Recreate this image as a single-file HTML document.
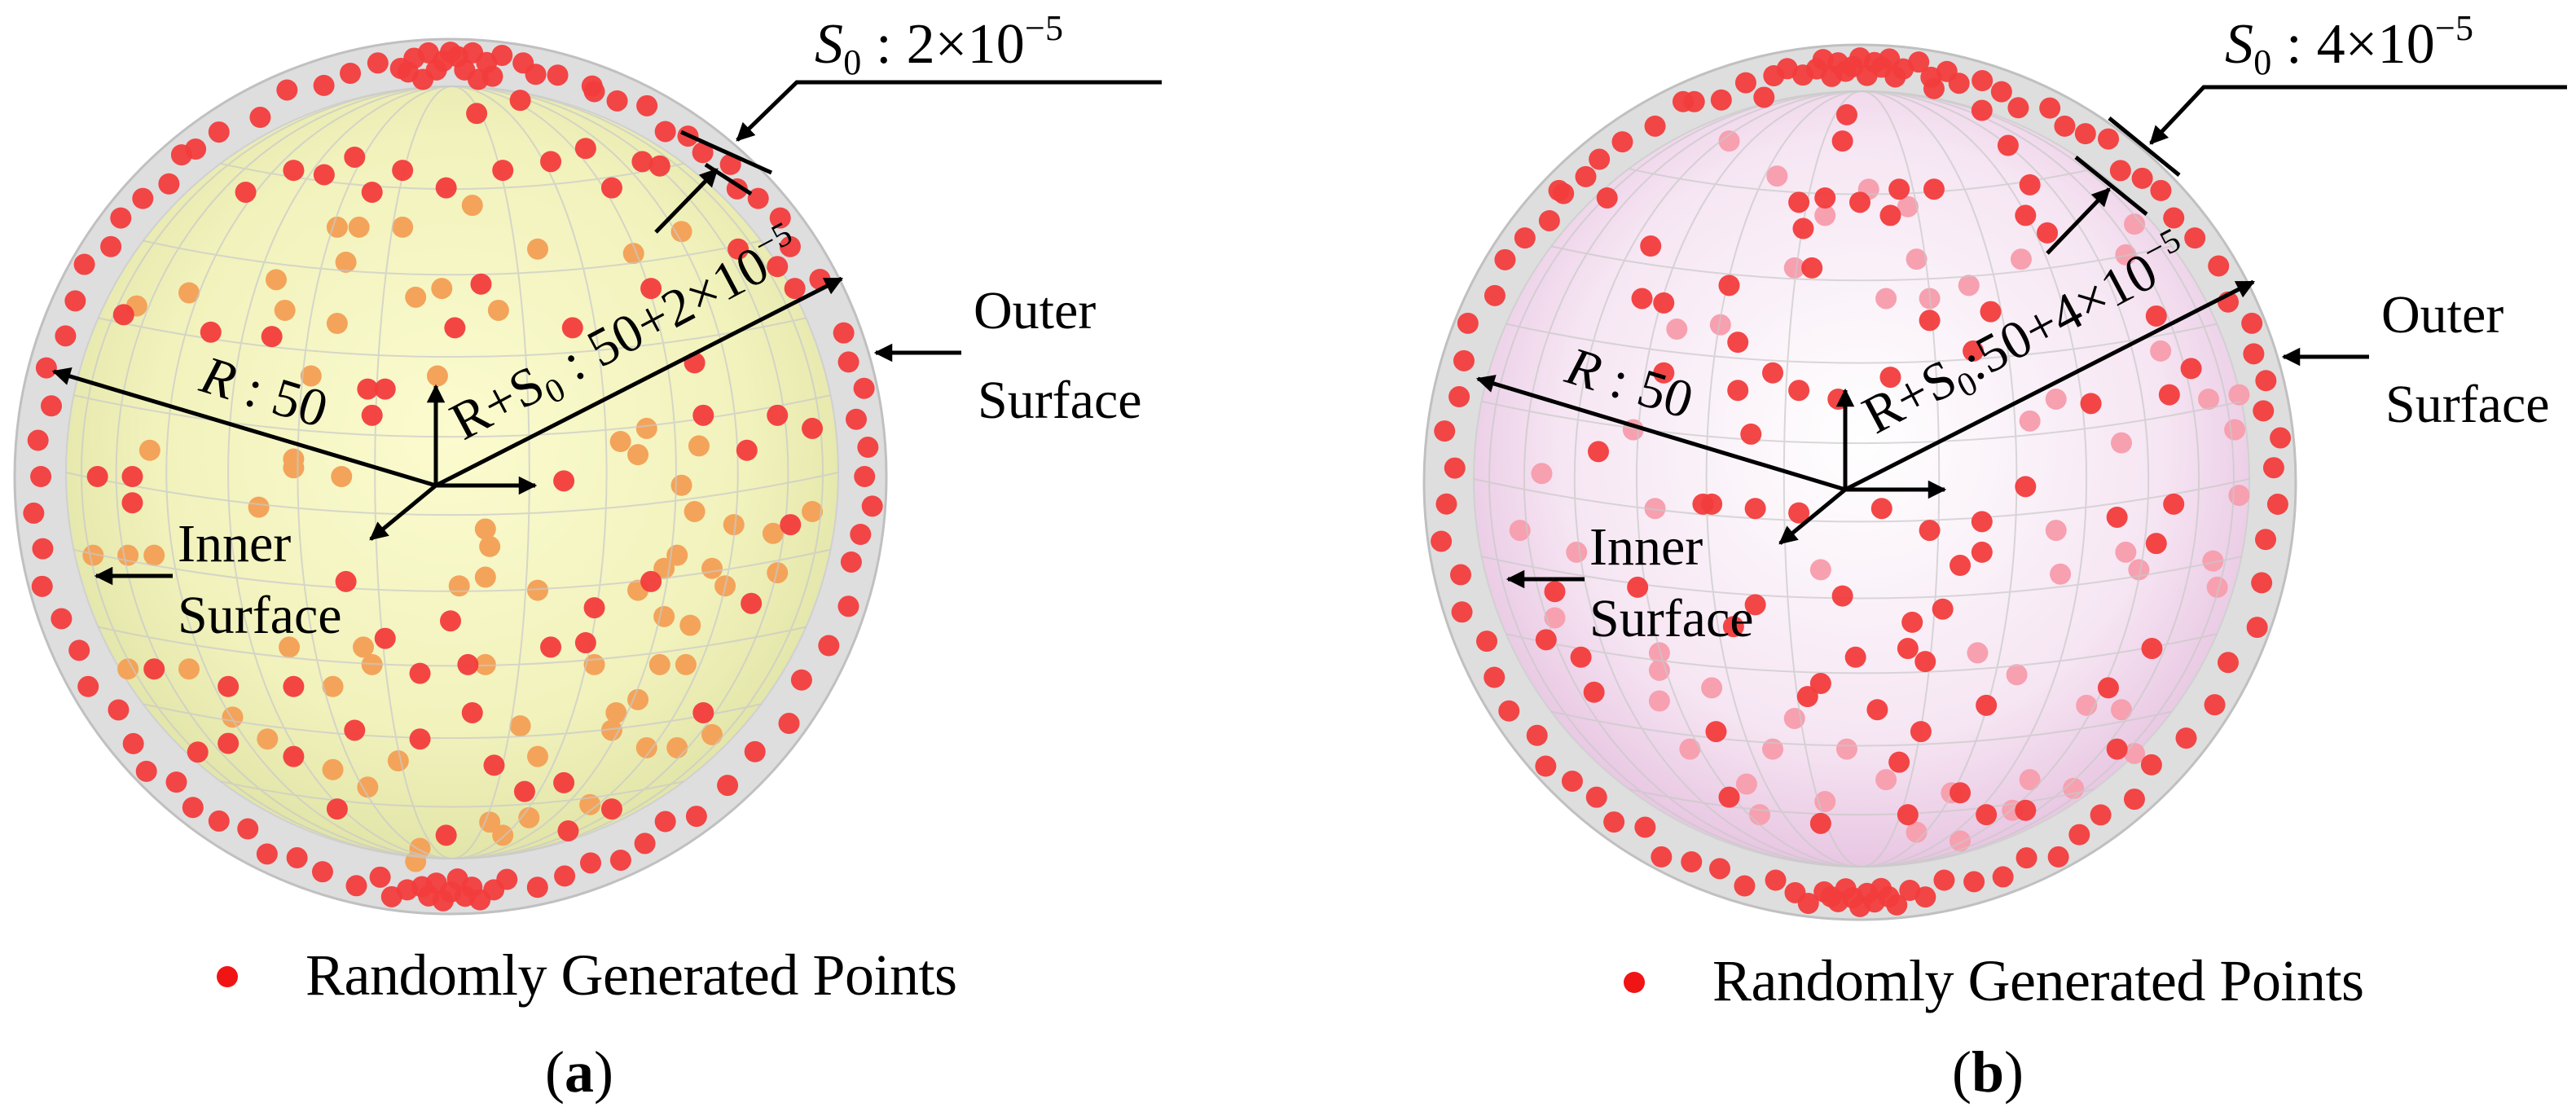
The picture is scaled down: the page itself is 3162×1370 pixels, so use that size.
<!DOCTYPE html>
<html><head><meta charset="utf-8"><style>
html,body{margin:0;padding:0;background:#fff}
svg{display:block;font-family:"Liberation Serif","Times New Roman",serif}
text{font-family:"Liberation Serif","Times New Roman",serif;fill:#000}
</style></head><body>
<svg id="fig" width="3162" height="1370" viewBox="0 0 3162 1370" xmlns="http://www.w3.org/2000/svg" font-family="Liberation Serif, serif">
<defs>
<radialGradient id="gy" cx="0.5" cy="0.45" r="0.55">
<stop offset="0" stop-color="#fbfbcf"/><stop offset="0.7" stop-color="#f1f2bc"/><stop offset="1" stop-color="#e2e5a8"/></radialGradient>
<radialGradient id="gp" cx="0.5" cy="0.45" r="0.55">
<stop offset="0" stop-color="#ffffff"/><stop offset="0.7" stop-color="#f6e6f3"/><stop offset="1" stop-color="#e8c6e2"/></radialGradient>
<marker id="ah" viewBox="0 0 10 10" refX="9" refY="5" markerWidth="6" markerHeight="4.5" orient="auto" markerUnits="strokeWidth"><path d="M0,0 L10,5 L0,10 z" fill="#000"/></marker>
</defs>
<g id="panelA"></g>
<g id="panelB"></g>
</svg>
<script>
// ---- data: panel (a) ----
const ringAngA=[80,83,85,87,88,89,90,91,92,93,95,97,100,78,75,84,96,86,94,104,108,113,118,124,70,66,62,58,55,52,48,45,42,38,34,28,20,16,12,8,4,0,-4,-8,-12,-18,-24,-30,-36,-42,-48,-54,-58,-62,-66,-70,-74,-78,-82,-84,-86,-87,-88,-89,-90,-91,-92,-93,-94,-96,-98,-100,-103,-108,-112,-116,-120,-124,-128,-132,-136,-140,-145,-150,-155,-160,-165,-170,-175,180,175,170,165,160,155,150,146,142,138,134,130,128];
const ringRA=[0.96,0.97,0.95,0.97,0.93,0.96,0.97,0.95,0.93,0.97,0.96,0.94,0.96,0.94,0.95,0.92,0.93,0.91,0.91,0.95,0.94,0.96,0.93,0.95,0.95,0.94,0.96,0.93,0.95,0.94,0.96,0.93,0.95,0.96,0.94,0.96,0.96,0.95,0.97,0.94,0.96,0.95,0.97,0.95,0.94,0.96,0.95,0.93,0.96,0.94,0.95,0.96,0.93,0.95,0.96,0.94,0.95,0.96,0.93,0.95,0.97,0.94,0.96,0.92,0.95,0.97,0.93,0.96,0.94,0.95,0.97,0.93,0.96,0.95,0.94,0.96,0.93,0.95,0.96,0.94,0.97,0.95,0.93,0.96,0.94,0.95,0.97,0.95,0.96,0.94,0.95,0.93,0.96,0.94,0.95,0.97,0.94,0.96,0.95,0.93,0.96];
const frontXA=[0.07,0.01,0.28,0.46,-0.55,-0.41,-0.19,-0.15,-0.18,-0.81,-0.73,-0.73,0.26,0.58,0.68,0.75,0.83,0.78,-0.24,0.33,0.46,0.69,-0.15,-0.07,0.04,0.23,0.31,-0.36,-0.51,-0.68,-0.22,-0.07,0.05,0.58,0.1,0.26,0.17,0.37,-0.26,-0.01,0.27,-0.51,-0.58,-0.36,-0.47,-0.29,-0.18,-0.11,-0.01,0.12,0.23,0.37,0.31,0.06,0.16,0.33,-0.22,-0.36,0.44,0.48,0.66,0.75,0.79,0.56,-0.75,0];
const frontYA=[-0.44,-0.34,-0.34,-0.43,-0.33,-0.32,-0.2,-0.2,-0.14,0,0,0.06,0.01,-0.14,-0.06,-0.14,-0.11,0.11,0.24,0.3,0.24,0.29,0.37,0.45,0.43,0.39,0.38,0.48,0.48,0.44,0.58,0.6,0.54,0.54,0.66,0.7,0.72,0.76,0.76,0.82,0.81,0.61,0.63,0.64,-0.65,-0.69,-0.65,-0.7,-0.66,-0.7,-0.72,-0.66,-0.75,-0.83,-0.86,-0.88,-0.73,-0.7,-0.72,-0.71,-0.52,-0.48,-0.43,-0.26,-0.37,0.33];
const backXA=[-0.26,-0.21,-0.11,0.05,0.2,0.42,0.53,-0.4,-0.24,-0.08,-0.02,0.11,-0.26,-0.6,-0.72,-0.38,-0.32,-0.03,-0.69,-0.36,-0.25,-0.36,0.39,0.43,0.45,0.57,0.53,0.56,0.65,0.74,0.83,0.08,0.09,-0.44,-0.68,-0.74,-0.82,0.08,0.02,0.2,0.43,0.49,0.52,0.6,0.63,0.75,0.49,0.55,-0.37,-0.2,-0.18,0.08,0.33,0.48,0.54,-0.27,-0.74,-0.6,-0.5,-0.42,-0.27,-0.12,0.16,0.38,0.37,0.43,0.45,0.52,-0.19,0.09,0.18,0.32,0.12,-0.07,-0.08,0.6,0.2];
const backYA=[-0.57,-0.57,-0.57,-0.62,-0.52,-0.51,-0.56,-0.45,-0.49,-0.41,-0.43,-0.38,-0.35,-0.42,-0.39,-0.38,-0.23,-0.23,-0.06,-0.04,0,-0.02,-0.08,-0.05,-0.11,-0.07,0.02,0.08,0.11,0.13,0.08,0.12,0.16,0.07,0.18,0.18,0.18,0.23,0.25,0.26,0.26,0.21,0.18,0.21,0.25,0.22,0.32,0.34,0.39,0.39,0.43,0.43,0.43,0.43,0.43,0.48,0.44,0.44,0.55,0.6,0.67,0.65,0.57,0.54,0.58,0.51,0.62,0.62,0.71,0.79,0.78,0.75,0.82,0.85,0.88,0.59,0.64];
// ---- data: panel (b) ----
const ringAngB=[78,80,82,84,85,86,87,88,89,90,91,92,93,94,95,96,98,100,102,76,73,106,110,115,120,125,70,67,63,60,57,54,50,47,44,40,36,31,26,22,18,14,10,6,2,-3,-8,-14,-20,-26,-32,-38,-44,-49,-54,-58,-62,-66,-70,-74,-78,-81,-83,-85,-86,-87,-88,-89,-90,-91,-92,-93,-94,-95,-97,-99,-102,-106,-110,-114,-118,-122,-126,-130,-134,-138,-142,-147,-152,-157,-162,-167,-172,-177,178,173,168,163,158,153,148,144,140,136,132,129];
const ringRB=[0.96,0.94,0.97,0.95,0.93,0.97,0.95,0.96,0.93,0.97,0.95,0.94,0.96,0.93,0.97,0.95,0.94,0.96,0.95,0.94,0.96,0.95,0.93,0.96,0.94,0.95,0.95,0.93,0.96,0.94,0.95,0.97,0.93,0.95,0.96,0.94,0.95,0.96,0.94,0.97,0.95,0.96,0.94,0.97,0.95,0.96,0.94,0.95,0.97,0.94,0.96,0.95,0.93,0.96,0.94,0.95,0.97,0.94,0.96,0.95,0.93,0.96,0.94,0.97,0.95,0.93,0.96,0.94,0.97,0.95,0.93,0.96,0.95,0.94,0.97,0.95,0.93,0.96,0.94,0.95,0.97,0.93,0.96,0.94,0.95,0.97,0.94,0.96,0.95,0.93,0.96,0.94,0.97,0.95,0.93,0.96,0.94,0.95,0.97,0.94,0.96,0.95,0.93,0.96,0.94];
const frontXB=[-0.48,-0.3,-0.5,-0.45,-0.28,-0.2,-0.14,-0.28,-0.45,-0.6,-0.25,-0.05,0.07,0.16,0.3,0.26,0.53,0.38,0.72,0.68,0.71,0.76,0.59,0.28,0.28,0.16,0.05,-0.14,-0.24,-0.36,-0.34,0.23,-0.04,0.12,0.19,0.11,-0.01,0.15,-0.09,-0.12,0.04,0.29,0.57,0.67,-0.33,0.14,0.09,0.23,-0.3,-0.09,0.11,0.29,0.38,0.59,-0.61,-0.72,-0.64,-0.7,-0.51,-0.24,-0.29,-0.14,-0.08,0,0.07,0.09,0.17,-0.13,-0.11,0.34,0.39,0.38,0.43,-0.03,-0.04,-0.22,0.17,0.28,-0.38,-0.58,-0.68,0.68];
const frontYB=[-0.54,-0.45,-0.42,-0.41,-0.32,-0.25,-0.21,-0.21,-0.25,-0.07,-0.11,-0.19,-0.24,-0.37,-0.39,-0.3,-0.18,0.01,0.05,0.14,-0.2,-0.26,0.08,0.09,0.16,0.11,0.06,0.07,0.06,0.05,0.05,0.19,0.26,0.32,0.29,0.38,0.4,0.41,0.46,0.49,0.52,0.51,0.47,0.38,0.57,0.57,0.64,0.71,0.72,0.78,0.76,0.76,0.75,0.61,0.48,0.36,0.4,0.25,0.24,0.28,0.33,-0.64,-0.65,-0.64,-0.61,-0.67,-0.67,-0.58,-0.49,-0.77,-0.68,-0.61,-0.57,-0.84,-0.78,-0.88,-0.9,-0.85,-0.87,-0.65,-0.66,-0.38];
const backXB=[-0.3,-0.19,-0.08,0.02,0.11,0.13,0.06,0.16,0.25,-0.15,-0.32,-0.42,-0.52,-0.73,-0.78,-0.65,-0.47,-0.09,0.45,0.46,0.61,0.64,0.6,0.45,0.39,0.8,0.86,0.87,0.81,0.82,0.69,0.63,0.61,0.37,-0.46,-0.46,-0.46,-0.34,-0.7,-0.39,-0.2,-0.26,-0.15,-0.03,0.06,-0.08,0.21,0.39,0.52,0.6,0.63,0.49,-0.23,0.35,0.13,0.23,0.27,0.36,0.87];
const backYB=[-0.78,-0.7,-0.61,-0.67,-0.63,-0.51,-0.42,-0.42,-0.45,-0.49,-0.36,-0.35,-0.12,-0.02,0.11,0.16,0.06,0.2,0.11,0.21,0.16,0.2,-0.09,-0.19,-0.14,-0.19,-0.12,0.03,0.18,0.24,-0.3,-0.59,-0.52,-0.51,0.39,0.43,0.5,0.47,0.31,0.61,0.61,0.69,0.54,0.61,0.68,0.73,0.71,0.68,0.51,0.52,0.62,0.7,0.76,0.75,0.8,0.82,0.39,0.44,-0.2];

const NS='http://www.w3.org/2000/svg';
function mk(parent,tag,attrs){const e=document.createElementNS(NS,tag);for(const k in attrs)e.setAttribute(k,attrs[k]);parent.appendChild(e);return e;}

function drawSphere(g,cfg){
  const {cx,cy,rx,ry,icx,icy,ir,grad,backCol}=cfg;
  const outer=mk(g,'ellipse',{cx:cx,cy:cy,rx:rx,ry:ry,fill:'#dedede',stroke:'#c0c0c0','stroke-width':3});
  
  
  const inner=mk(g,'ellipse',{cx:icx,cy:icy,rx:ir,ry:ir,fill:'url(#'+grad+')',stroke:'#d0d0d0','stroke-width':2});
  
  
  // back points (seen through inner surface)
  const back=mk(g,'g',{});
  
  
  cfg.bx.forEach((v,i)=>{const c=mk(back,'circle',{cx:cx+v*rx,cy:cy+cfg.by[i]*ry,r:13,fill:backCol});
    
    });
  // grid
  const grid=mk(g,'g',{fill:'none',stroke:'#c9c9c9','stroke-width':2,opacity:0.7});
  
  
  [0.2,0.4,0.58,0.74,0.87,0.96].forEach(s=>{mk(grid,'ellipse',{cx:icx,cy:icy,rx:ir*s,ry:ir});});
  [-0.8,-0.6,-0.4,-0.2,0,0.2,0.4,0.6,0.8].forEach(t=>{const y=icy+t*ir;const w=ir*Math.sqrt(1-t*t);
    mk(grid,'path',{d:`M${icx-w},${y} Q${icx},${y+w*0.22} ${icx+w},${y}`});});
  // front points
  const front=mk(g,'g',{fill:'#f23c3c','fill-opacity':0.95});
  
  
  cfg.fx.forEach((v,i)=>{const c=mk(front,'circle',{cx:cx+v*rx,cy:cy+cfg.fy[i]*ry,r:13});
    
    });
  cfg.ra.forEach((a,i)=>{const t=a*Math.PI/180;const rr=cfg.rr[i]||0.95;const c=mk(front,'circle',{cx:cx+Math.cos(t)*rr*rx,cy:cy-Math.sin(t)*rr*ry,r:13});
    
    });
}

function line(g,x1,y1,x2,y2,arrow,name){const l=mk(g,'line',{x1:x1,y1:y1,x2:x2,y2:y2,stroke:'#000','stroke-width':5});
  if(arrow)l.setAttribute('marker-end','url(#ah)');
  
  return l;}
function txt(g,x,y,s,size,name,extra){const t=mk(g,'text',Object.assign({x:x,y:y,'font-size':size,'font-family':'Liberation Serif, serif'},extra||{}));t.innerHTML=s;
  
  return t;}

function annotate(g,c){
  line(g,c.ox,c.oy,c.rEnd[0],c.rEnd[1],true,'radius-r-arrow');
  line(g,c.ox,c.oy,c.sEnd[0],c.sEnd[1],true,'radius-r-s0-arrow');
  line(g,c.ox,c.oy,c.ox,c.oy-122,true,'axis-z-arrow');
  line(g,c.ox,c.oy,c.ox+122,c.oy,true,'axis-y-arrow');
  line(g,c.ox,c.oy,c.ox-80,c.oy+66,true,'axis-x-arrow');
  const p=c.call;
  const pl=mk(g,'polyline',{points:`${p[4]},${p[1]} ${p[0]},${p[1]} ${p[2]},${p[3]}`,fill:'none',stroke:'#000','stroke-width':5,'marker-end':'url(#ah)'});
  
  
  line(g,c.t1[0],c.t1[1],c.t1[2],c.t1[3],false,'outer-tick');
  line(g,c.t2[0],c.t2[1],c.t2[2],c.t2[3],false,'inner-tick');
  line(g,c.ia[0],c.ia[1],c.ia[2],c.ia[3],true,'inner-thickness-arrow');
  txt(g,c.s0x,77,'<tspan font-style="italic">S</tspan><tspan font-size="44" dy="14">0</tspan><tspan dy="-14"> : '+c.val+'×10</tspan><tspan font-size="44" dy="-28">−5</tspan>',70,'s0-label',{textLength:305});
  txt(g,c.rl[0],c.rl[1],'<tspan font-style="italic">R</tspan> : 50',66,'r-label',{'text-anchor':'middle',transform:`rotate(17 ${c.rl[0]} ${c.rl[1]})`});
  txt(g,c.sl[0],c.sl[1],'R+S<tspan font-size="42" dy="12">0</tspan><tspan dy="-12">'+c.sep+'50+'+c.val+'×10</tspan><tspan font-size="42" dy="-26">−5</tspan>',66,'r-plus-s0-label',{'text-anchor':'middle',transform:`rotate(-28 ${c.sl[0]} ${c.sl[1]})`});
  txt(g,c.out[0],c.out[1],'Outer',66,'outer-label');
  txt(g,c.out[0]+5,c.out[1]+110,'Surface',66,'outer-surface-label');
  line(g,c.out[0]-15,c.out[1]+30,c.out[0]-120,c.out[1]+30,true,'outer-pointer');
  txt(g,c.inn[0],c.inn[1],'Inner',66,'inner-label');
  txt(g,c.inn[0],c.inn[1]+88,'Surface',66,'inner-surface-label');
  line(g,c.inn[0]-6,c.inn[1]+18,c.inn[0]-100,c.inn[1]+18,true,'inner-pointer');
  const d=mk(g,'circle',{cx:c.leg[0],cy:c.leg[1]-22,r:13,fill:'#f01414'});
  
  
  txt(g,c.leg[0]+96,c.leg[1],'Randomly Generated Points',72,'legend-label',{textLength:800});
  txt(g,c.cap[0],1340,'(<tspan font-weight="bold">'+c.capL+'</tspan>)',72,'panel-caption',{'text-anchor':'middle'});
}

const gA=document.getElementById('panelA'),gB=document.getElementById('panelB');
drawSphere(gA,{cx:553,cy:585,rx:535,ry:537,icx:555,icy:580,ir:474,grad:'gy',backCol:'#f3a45a',fx:frontXA,fy:frontYA,bx:backXA,by:backYA,ra:ringAngA,rr:ringRA});
drawSphere(gB,{cx:2283,cy:592,rx:535,ry:537,icx:2285,icy:588,ir:476,grad:'gp',backCol:'#f7a0b0',fx:frontXB,fy:frontYB,bx:backXB,by:backYB,ra:ringAngB,rr:ringRB});
annotate(gA,{ox:535,oy:596,rEnd:[66,456],sEnd:[1033,342],call:[978,101,905,172,1426],t1:[836,162,947,212],t2:[866,202,922,238],ia:[805,285,880,208],s0x:1000,val:'2',sep:' : ',rl:[318,502],sl:[778,430],out:[1195,403],inn:[218,689],leg:[279,1221],cap:[711],capL:'a'});
annotate(gB,{ox:2265,oy:601,rEnd:[1814,465],sEnd:[2766,346],call:[2705,107,2640,176,3151],t1:[2589,145,2675,215],t2:[2548,193,2635,263],ia:[2513,311,2589,232],s0x:2731,val:'4',sep:':',rl:[1994,491],sl:[2497,430],out:[2923,408],inn:[1951,693],leg:[2006,1228],cap:[2440],capL:'b'});
</script>
</body></html>
